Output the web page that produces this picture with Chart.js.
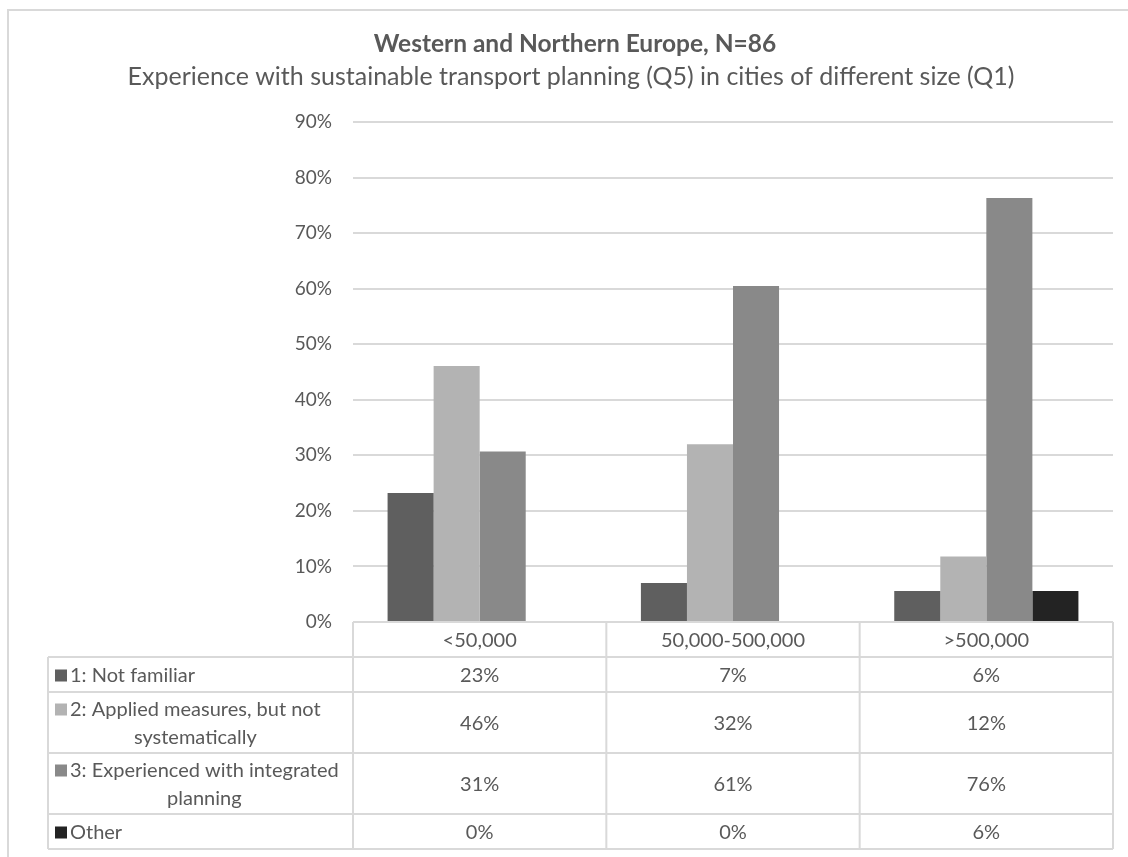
<!DOCTYPE html>
<html>
<head>
<meta charset="utf-8">
<script src="https://cdn.jsdelivr.net/npm/chart.js@4/dist/chart.umd.min.js"></script>
<style>
  html, body { margin: 0; padding: 0; background: #ffffff; }
  #wrap { position: relative; width: 1128px; height: 857px; }
</style>
</head>
<body>
<div id="wrap"><canvas id="c" width="1128" height="857"></canvas></div>
<script>
// ---- data ----
const categories = ['<50,000', '50,000-500,000', '>500,000'];
const seriesNames = [
  ['1: Not familiar'],
  ['2: Applied measures, but not', 'systematically'],
  ['3: Experienced with integrated', 'planning'],
  ['Other']
];
const notFamiliar = [23.2, 7.0, 5.6];
const appliedMeasures = [46.1, 32.0, 11.8];
const experienced = [30.7, 60.5, 76.3];
const other = [0, 0, 5.6];
const yTicks = [0, 10, 20, 30, 40, 50, 60, 70, 80, 90];
const titleText = 'Western and Northern Europe, N=86';
const subtitleText = 'Experience with sustainable transport planning (Q5) in cities of different size (Q1)';

const colors = ['#5f5f5f', '#b3b3b3', '#898989', '#232323'];
const seriesData = [notFamiliar, appliedMeasures, experienced, other];
const FONT = 'Lato, "Open Sans", sans-serif';
const TXT = '#595959';
const LINE = '#d9d9d9';

const tablePlugin = {
  id: 'tablePlugin',
  afterDraw(chart) {
    const ctx = chart.ctx;
    const x = chart.scales.x;
    const area = chart.chartArea;
    ctx.save();
    // outer border
    ctx.strokeStyle = LINE;
    ctx.lineWidth = 2;
    ctx.strokeRect(8, 10, 1300, 1000);

    // titles
    ctx.fillStyle = TXT;
    ctx.textAlign = 'center';
    ctx.textBaseline = 'alphabetic';
    ctx.font = 'bold 24.5px ' + FONT;
    ctx.fillText(titleText, 575, 52);
    ctx.font = '25px ' + FONT;
    ctx.fillText(subtitleText, 571, 85);

    // table geometry
    const rowH = [35, 35, 61, 61, 35];
    const top = area.bottom;
    const ys = [top];
    rowH.forEach(h => ys.push(ys[ys.length - 1] + h));
    const tableLeft = 48;
    const n = categories.length;
    const catW = (area.right - area.left) / n;
    const colEdges = [];
    for (let i = 0; i <= n; i++) colEdges.push(area.left + i * catW);

    ctx.strokeStyle = LINE;
    ctx.lineWidth = 2;
    ctx.beginPath();
    ctx.moveTo(area.left, ys[0]); ctx.lineTo(area.right, ys[0]);
    for (let r = 1; r < ys.length; r++) {
      ctx.moveTo(tableLeft, ys[r]); ctx.lineTo(area.right, ys[r]);
    }
    ctx.moveTo(tableLeft, ys[1]); ctx.lineTo(tableLeft, ys[ys.length - 1]);
    colEdges.forEach(cx => { ctx.moveTo(cx, ys[0]); ctx.lineTo(cx, ys[ys.length - 1]); });
    ctx.stroke();

    // header
    ctx.font = '20px ' + FONT;
    ctx.fillStyle = TXT;
    ctx.textAlign = 'center';
    ctx.textBaseline = 'middle';
    categories.forEach((c, i) => {
      ctx.fillText(c, x.getPixelForValue(i), (ys[0] + ys[1]) / 2 + 1);
    });
    // rows
    seriesData.forEach((vals, s) => {
      const y0 = ys[s + 1], y1 = ys[s + 2];
      const mid = (y0 + y1) / 2 + 1;
      const lines = seriesNames[s];
      const lh = 28;
      const firstY = mid - (lines.length - 1) * lh / 2;
      ctx.fillStyle = colors[s];
      ctx.fillRect(55, firstY - 6, 12, 12);
      ctx.fillStyle = TXT;
      ctx.textAlign = 'left';
      const w1 = ctx.measureText(lines[0]).width;
      ctx.fillText(lines[0], 70, firstY);
      ctx.textAlign = 'center';
      for (let l = 1; l < lines.length; l++) {
        ctx.fillText(lines[l], 70 + w1 / 2, firstY + l * lh);
      }
      vals.forEach((v, i) => {
        ctx.fillText(Math.round(v) + '%', x.getPixelForValue(i), mid);
      });
    });
    ctx.restore();
  }
};

new Chart(document.getElementById('c'), {
  type: 'bar',
  data: {
    labels: categories,
    datasets: seriesData.map((d, s) => ({
      label: seriesNames[s].join(' '),
      data: d,
      backgroundColor: colors[s],
      borderWidth: 0,
      categoryPercentage: 0.727,
      barPercentage: 1.0
    }))
  },
  options: {
    responsive: false,
    animation: false,
    events: [],
    layout: { padding: { left: 0, right: 15, top: 122, bottom: 235 } },
    plugins: {
      legend: { display: false },
      title: { display: false },
      tooltip: { enabled: false }
    },
    scales: {
      x: { display: false },
      y: {
        min: 0,
        max: 90,
        afterBuildTicks: (s) => { s.ticks = yTicks.map(v => ({ value: v })); },
        afterFit: (s) => { s.width = 353; },
        ticks: {
          color: TXT,
          font: { family: FONT, size: 19 },
          padding: 21,
          callback: (v) => v + '%'
        },
        grid: { color: LINE, lineWidth: 2, drawTicks: false },
        border: { display: false }
      }
    }
  },
  plugins: [tablePlugin]
});
</script>
</body>
</html>
